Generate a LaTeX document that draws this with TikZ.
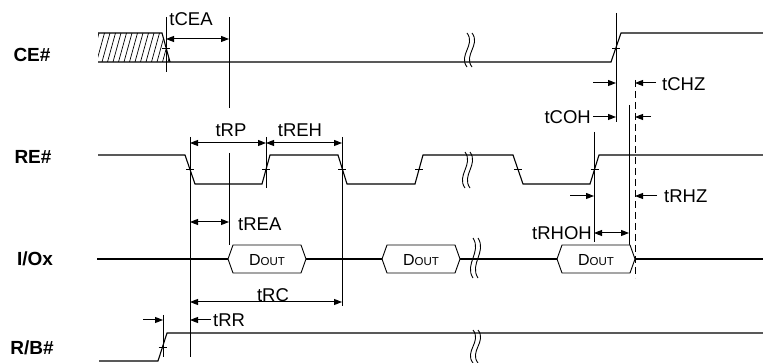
\documentclass[tikz,border=0pt]{standalone}
\usepackage{fontspec}
\setmainfont{Liberation Sans}
\usetikzlibrary{arrows.meta, positioning, calc}

\begin{document}
\begin{tikzpicture}[
                    x=1pt, y=-1pt,
                    sig/.style={line width=1.1pt},
                    guide/.style={line width=0.9pt},
                    dim/.style={line width=1pt, {Triangle[length=8pt,width=6pt]}-{Triangle[length=8pt,width=6pt]}},
                    onearrow/.style={line width=1pt, -{Triangle[length=8pt,width=6pt]}},
                    lbl/.style={font=\fontsize{18.5}{20}\selectfont, inner sep=0pt},
                    pin/.style={font=\fontsize{19}{21}\selectfont\bfseries, inner sep=0pt},
                    dtext/.style={font=\fontsize{16}{18}\selectfont, inner sep=0pt}
                ]
                    \useasboundingbox (0,0) rectangle (763,363);

                    \node[pin] (ce) at (32,55) {CE\#};
                    \node[pin] (re) at (33,157) {RE\#};
                    \node[pin] (io) at (35,259) {I/Ox};
                    \node[pin] (rb) at (32,348) {R/B\#};

                    \begin{scope}
                        \clip (98,33) -- (162,33) -- (170,62) -- (98,62) -- cycle;
                        \foreach \x in {91,96.5,...,172}
                            \draw[line width=0.7pt] (\x,62) -- (\x+8,33);
                    \end{scope}
                    \draw[sig] (98,33) -- (162,33) -- (170,62);
                    \draw[sig] (98,62) -- (611,62) -- (621,33) -- (763,33);

                    \draw[sig] (98,155) -- (185,155) -- (195,184) -- (262,184) -- (270,155) -- (338,155) -- (347,184)
                        -- (415,184) -- (423,155) -- (513,155) -- (523,184) -- (590,184) -- (599,155) -- (763,155);

                    \draw[sig] (97,259) -- (763,259);

                    \draw[sig] (99,361) -- (158,361) -- (167,333) -- (763,333);

                    \foreach \x/\y in {166/48, 616/48, 190/169.5, 266/169.5, 342/169.5, 419/169.5, 518/169.5, 594.5/169.5, 162.5/347}
                        \draw[guide] (\x-4,\y) -- (\x+4,\y);

                    \draw[guide] (166,17) -- (166,72);
                    \draw[guide] (229,17) -- (229,108);
                    \draw[guide] (229,153) -- (229,245);
                    \draw[guide] (190,137) -- (190,357);
                    \draw[guide] (266,137) -- (266,188);
                    \draw[guide] (342,137) -- (342,306);
                    \draw[guide] (163,315) -- (163,357);
                    \draw[guide] (616,13) -- (616,122);
                    \draw[guide] (594,132) -- (594,242);
                    \draw[guide] (629,105) -- (629,245);
                    \draw[guide, dash pattern=on 7pt off 4pt] (635,80) -- (635,278);

                    \foreach \a/\b [count=\i] in {228/306, 382/460, 557/635} {
                        \draw[guide, fill=white] (\a,259) -- (\a+5,245) -- (\b-5,245) -- (\b,259) -- (\b-5,273) -- (\a+5,273) -- cycle;
                        \node[dtext] (dout\i) at ({(\a+\b)/2},260) {D{\fontsize{11.5}{13}\selectfont OUT}};
                    }

                    \foreach \x/\t/\b in {467/33/67, 465/152/188, 473/238/278, 473/330/363} {
                        \draw[guide] (\x,\t) .. controls (\x+9,{\t+0.35*(\b-\t)}) and (\x-9,{\t+0.65*(\b-\t)}) .. (\x,\b);
                        \draw[guide] (\x+5,\t) .. controls (\x+14,{\t+0.35*(\b-\t)}) and (\x-4,{\t+0.65*(\b-\t)}) .. (\x+5,\b);
                    }

                    \node[lbl] (tcea) at (191,19) {tCEA};
                    \draw[dim] (166,39) -- (229,39);

                    \node[lbl] (trp) at (231,130) {tRP};
                    \node[lbl] (treh) at (300,130) {tREH};
                    \draw[dim] (190,143) -- (266,143);
                    \draw[dim] (266,143) -- (342,143);

                    \node[lbl, anchor=west] (trea) at (238,224) {tREA};
                    \draw[dim] (190,222) -- (229,222);

                    \node[lbl] (trc) at (273,295) {tRC};
                    \draw[dim] (190,302) -- (342,302);

                    \node[lbl, anchor=west] (trr) at (213,320) {tRR};
                    \draw[onearrow] (143,320) -- (163,320);
                    \draw[onearrow] (211,320) -- (190,320);

                    \node[lbl, anchor=east] (tcoh) at (591,117) {tCOH};
                    \draw[onearrow] (593,83) -- (616,83);
                    \draw[onearrow] (593,117) -- (616,117);

                    \node[lbl, anchor=west] (tchz) at (662,84) {tCHZ};
                    \draw[onearrow] (656,83) -- (635,83);
                    \draw[onearrow] (651,117) -- (635,117);

                    \node[lbl, anchor=west] (trhz) at (664,196) {tRHZ};
                    \draw[onearrow] (570,196) -- (594,196);
                    \draw[onearrow] (657,196) -- (635,196);

                    \node[lbl, anchor=east] (trhoh) at (592,233) {tRHOH};
                    \draw[dim] (594,233) -- (629,233);
                \end{tikzpicture}
\end{document}
